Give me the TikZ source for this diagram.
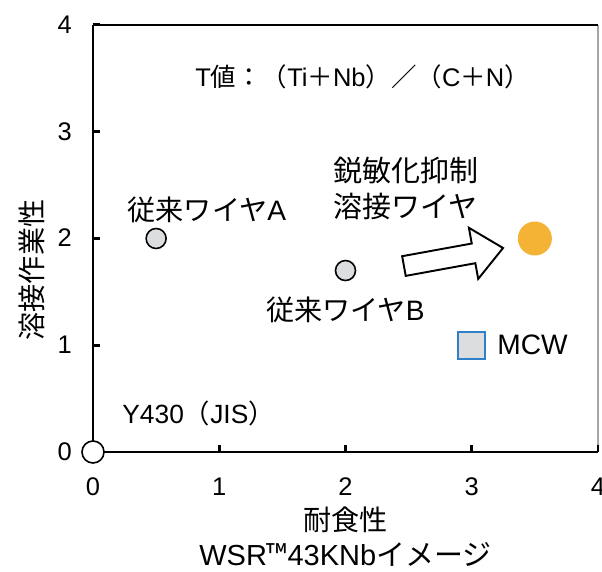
\documentclass[tikz,border=0pt]{standalone}
\usepackage{fontspec}
\setmainfont{Liberation Sans}
\newfontfamily\jp{Noto Sans CJK JP}
\usetikzlibrary{calc}
\definecolor{ptgray}{HTML}{DCDDDF}
\definecolor{ptorange}{HTML}{F5B335}
\definecolor{mcwblue}{HTML}{2F80C8}
\tikzset{pt/.style={circle,draw,line width=0.9pt,fill=ptgray,inner sep=0pt,minimum size=0.4cm},
  axis/.style={line width=1.7pt},
  lbl/.style={inner sep=0pt,font=\fontsize{16}{20.5}\selectfont},
  jplbl/.style={inner sep=0pt,font=\fontsize{16}{20.5}\selectfont\jp}}

\begin{document}
\begin{tikzpicture}[x=2.525cm,y=2.135cm,font=\fontsize{14.5}{20.5}\selectfont]
          \def\xmin{0} \def\xmax{4}
          \def\ymin{0} \def\ymax{4}
          \useasboundingbox[fill=white] (-0.7366,-1.1241) rectangle (4.0317,4.2342);
          \draw[gray!70,line width=1pt] (\xmax,\ymin) -- (\xmax,\ymax);
          \draw[line width=0.7pt] (\xmin,\ymax) -- (\xmax,\ymax);
          \draw[axis] (\xmin,\ymax) -- (\xmin,\ymin) -- (\xmax,\ymin);
          \foreach \i in {1,...,4} {
            \draw[axis] (\i,\ymin) -- ++(0pt,4pt);
            \draw[axis] (\xmin,\i) -- ++(4pt,0pt);
          }
          \foreach \i in {0,...,4} {
            \node[inner sep=0pt,anchor=base] (xt\i) at (\i,-0.412) {\i};
            \node[inner sep=0pt,anchor=base east] (yt\i) at (-0.166,\i-0.078) {\i};
          }
          \node[jplbl,rotate=90] (ylab) at (-0.483,1.705) {溶接作業性};
          \node[jplbl] (xlab) at (2,-0.637) {耐食性};
          \node[lbl,font=\fontsize{16.5}{20}\selectfont] (xsub) at (2,-0.962) {WSR{\jp ™}43KNb{\jp イメージ}};

          \node[inner sep=0pt] (title) at (2.135,3.513) {T{\jp 値：（}Ti{\jp ＋}Nb{\jp ）／（}C{\jp ＋}N{\jp ）}};

          % data points
          \node[circle,draw,line width=0.9pt,fill=white,inner sep=0pt,minimum size=0.44cm] (y430) at (0,0) {};
          \node[lbl,anchor=west,font=\fontsize{15}{18}\selectfont] (y430lab) at (0.230,0.365) {Y430{\jp （}JIS{\jp ）}};
          \node[pt] (wireA) at (0.5,2) {};
          \node[lbl] (wireAlab) at (0.903,2.267) {{\jp 従来ワイヤ}A};
          \node[pt] (wireB) at (2,1.7) {};
          \node[lbl] (wireBlab) at (2,1.330) {{\jp 従来ワイヤ}B};
          \node[draw=mcwblue,line width=0.9pt,fill=ptgray,minimum size=0.54cm,inner sep=0pt] (mcw) at (3,1) {};
          \node[lbl,anchor=west] (mcwlab) at ($(mcw.east)+(0.22cm,0)$) {MCW};
          \node[circle,fill=ptorange,inner sep=0pt,minimum size=0.68cm] (newwire) at (3.5,2) {};
          \node[jplbl,anchor=west,align=left,font=\fontsize{16.5}{20.5}\selectfont\jp] (newlab) at (1.901,2.473) {鋭敏化抑制\\溶接ワイヤ};

          % block arrow
          \coordinate (tail) at (2.463,1.742);
          \coordinate (tip) at (3.248,1.911);
          \coordinate (hb) at ($(tip)!0.6cm!(tail)$);
          \draw[line width=1.1pt,fill=white,line join=miter]
            ($(tail)!0.2cm!90:(tip)$) -- ($(hb)!0.2cm!90:(tip)$) -- ($(hb)!0.52cm!90:(tip)$)
            -- (tip) -- ($(hb)!0.52cm!-90:(tip)$) -- ($(hb)!0.2cm!-90:(tip)$)
            -- ($(tail)!0.2cm!-90:(tip)$) -- cycle;
\end{tikzpicture}
\end{document}
